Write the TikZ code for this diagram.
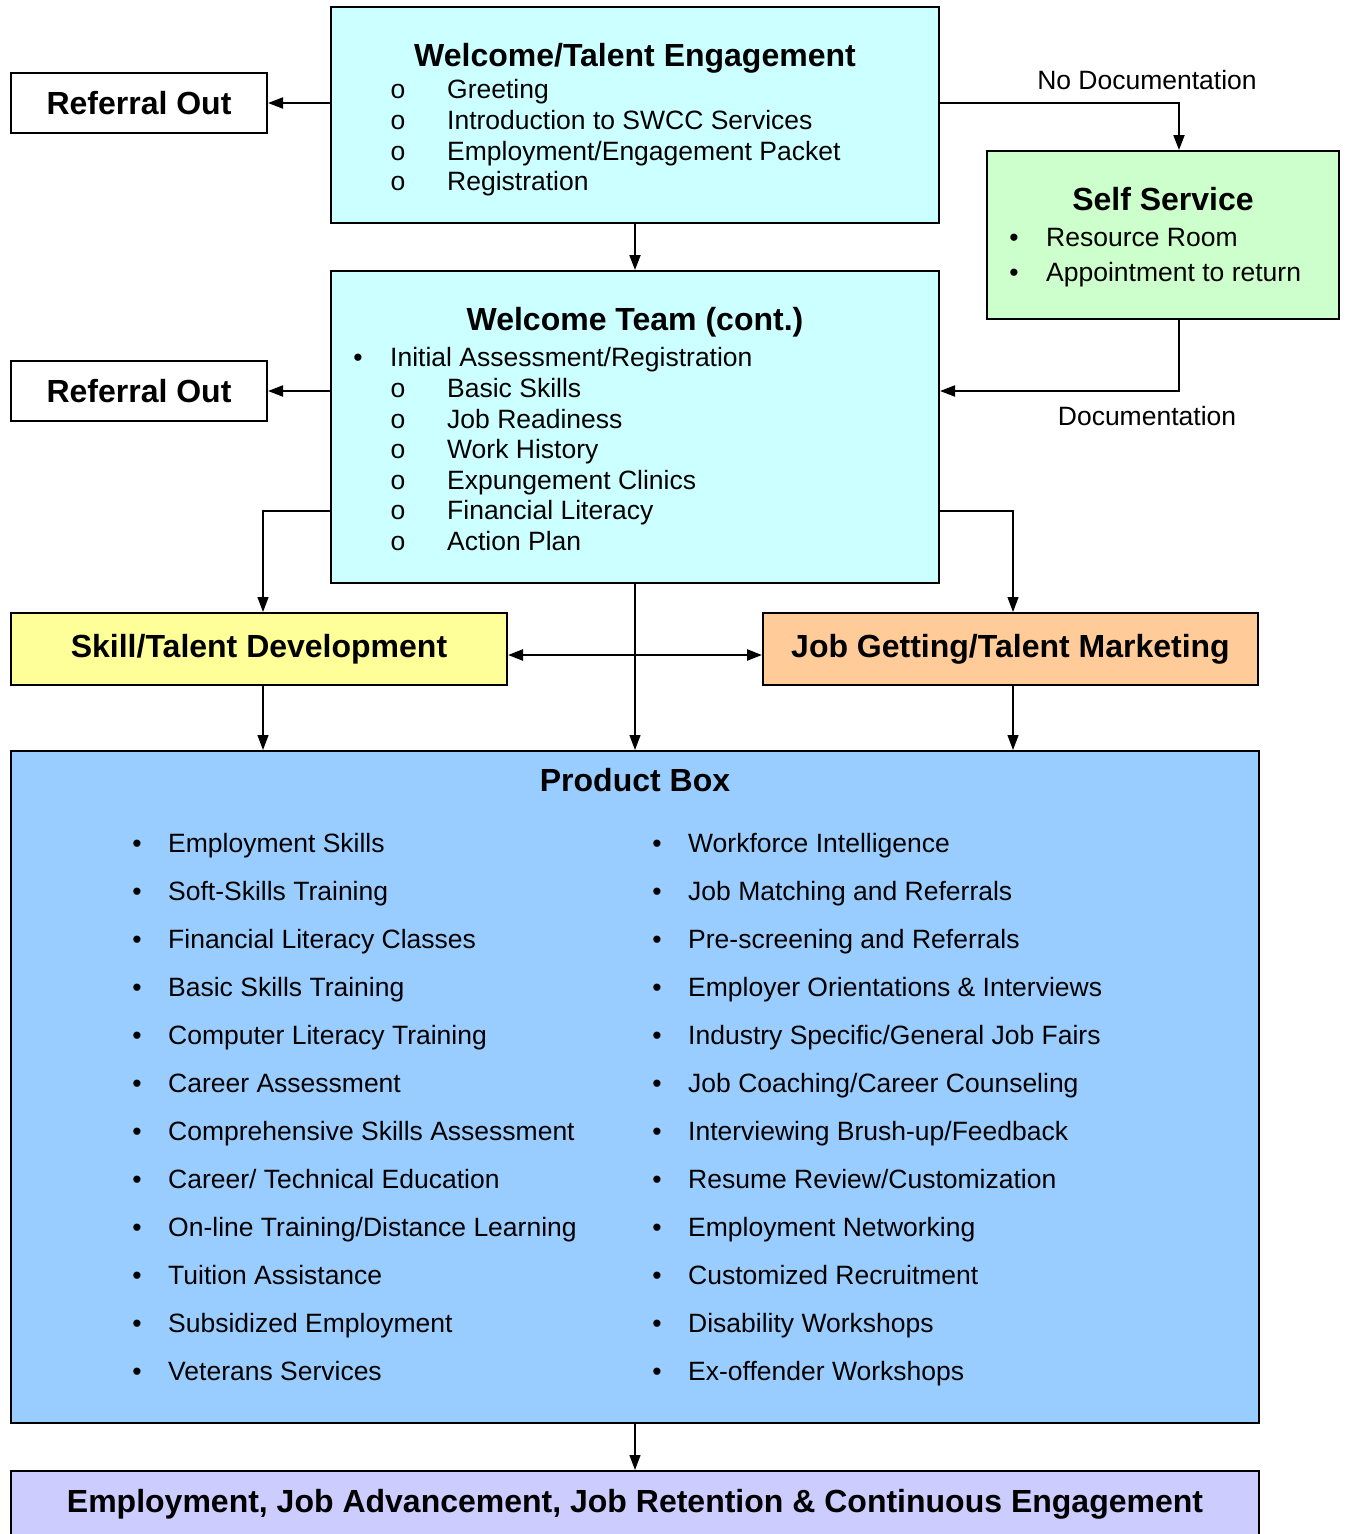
\documentclass[tikz,border=0pt]{standalone}
\usepackage{fontspec}
\setmainfont{Liberation Sans}
\usepackage{tikz}
\usetikzlibrary{arrows.meta}
\usepackage{xcolor}
\definecolor{welcomeCyan}{HTML}{CCFFFF}
\definecolor{selfGreen}{HTML}{CCFFCC}
\definecolor{skillYellow}{HTML}{FFFF99}
\definecolor{jobPeach}{HTML}{FFCC99}
\definecolor{productBlue}{HTML}{99CCFF}
\definecolor{goalLavender}{HTML}{CCCCFF}
\newcommand{\bodysize}{\fontsize{26.5}{31}\selectfont}
\newcommand{\headsize}{\fontsize{32}{36}\selectfont\bfseries}

\begin{document}
\begin{tikzpicture}[
  x=1pt, y=-1pt,
  box/.style={draw, line width=2pt, inner sep=0pt},
  head/.style={font=\headsize, anchor=base},
  item/.style={font=\bodysize, anchor=base west, inner sep=0pt},
  bulletmark/.style={font=\bodysize, anchor=base, inner sep=0pt},
  link/.style={-{Triangle[length=15pt,width=11pt]}, line width=2pt},
  thinlink/.style={-{Triangle[length=15pt,width=11pt]}, line width=1.2pt}
]
  \useasboundingbox (0,0) rectangle (1347,1534);

  % Welcome / Talent Engagement
  \node[box, fill=welcomeCyan, minimum width=608pt, minimum height=216pt] (welcome) at (635,115) {};
  \node[head] (welcomeTitle) at (635,66.5) {Welcome/Talent Engagement};
  \foreach \txt [count=\i from 0] in {Greeting, Introduction to SWCC Services, Employment/Engagement Packet, Registration} {
    \node[bulletmark] (welcomeMark\i) at (398,98.5+30.8*\i) {o};
    \node[item] (welcomeItem\i) at (447,98.5+30.8*\i) {\txt};
  }

  % Referral boxes
  \node[box, minimum width=256pt, minimum height=60pt, font=\headsize] (refOne) at (139,103) {Referral Out};
  \node[box, minimum width=256pt, minimum height=60pt, font=\headsize] (refTwo) at (139,391) {Referral Out};

  % Self Service
  \node[box, fill=selfGreen, minimum width=352pt, minimum height=168pt] (self) at (1163,235) {};
  \node[head] (selfTitle) at (1163,210.5) {Self Service};
  \node[bulletmark] (selfMarkA) at (1014,246.5) {•};
  \node[item] (selfItemA) at (1046,246.5) {Resource Room};
  \node[bulletmark] (selfMarkB) at (1014,281.5) {•};
  \node[item] (selfItemB) at (1046,281.5) {Appointment to return};

  % Welcome Team (cont.)
  \node[box, fill=welcomeCyan, minimum width=608pt, minimum height=312pt] (team) at (635,427) {};
  \node[head] (teamTitle) at (635,330.5) {Welcome Team (cont.)};
  \node[bulletmark] (teamMark) at (358,366.5) {•};
  \node[item] (teamItem) at (390,366.5) {Initial Assessment/Registration};
  \foreach \txt [count=\i from 0] in {Basic Skills, Job Readiness, Work History, Expungement Clinics, Financial Literacy, Action Plan} {
    \node[bulletmark] (teamSubMark\i) at (398,397.5+30.6*\i) {o};
    \node[item] (teamSubItem\i) at (447,397.5+30.6*\i) {\txt};
  }

  % Development and marketing
  \node[box, fill=skillYellow, minimum width=496pt, minimum height=72pt, font=\headsize] (skill) at (259,649) {Skill/Talent Development};
  \node[box, fill=jobPeach, minimum width=495pt, minimum height=72pt, font=\headsize] (job) at (1010.5,649) {Job Getting/Talent Marketing};

  % Product Box
  \node[box, fill=productBlue, minimum width=1248pt, minimum height=672pt] (product) at (635,1087) {};
  \node[head] (productTitle) at (635,791.5) {Product Box};
  \foreach \txt [count=\i from 0] in {Employment Skills, Soft-Skills Training, Financial Literacy Classes, Basic Skills Training, Computer Literacy Training, Career Assessment, Comprehensive Skills Assessment, Career/ Technical Education, On-line Training/Distance Learning, Tuition Assistance, Subsidized Employment, Veterans Services} {
    \node[bulletmark] (leftMark\i) at (137,852.5+48*\i) {•};
    \node[item] (leftItem\i) at (168,852.5+48*\i) {\txt};
  }
  \foreach \txt [count=\i from 0] in {Workforce Intelligence, Job Matching and Referrals, Pre-screening and Referrals, Employer Orientations \& Interviews, Industry Specific/General Job Fairs, Job Coaching/Career Counseling, Interviewing Brush-up/Feedback, Resume Review/Customization, Employment Networking, Customized Recruitment, Disability Workshops, Ex-offender Workshops} {
    \node[bulletmark] (rightMark\i) at (657,852.5+48*\i) {•};
    \node[item] (rightItem\i) at (688,852.5+48*\i) {\txt};
  }

  % Outcome
  \node[box, fill=goalLavender, minimum width=1248pt, minimum height=80pt] (goal) at (635,1511) {};
  \node[head] (goalText) at (635,1512.5) {Employment, Job Advancement, Job Retention \& Continuous Engagement};

  % Connectors
  \draw[link] (refOne.east -| welcome.west) -- (refOne.east);
  \draw[link] (refTwo.east -| team.west) -- (refTwo.east);
  \draw[link] (welcome.south) -- (team.north);
  \draw[link] (welcome.east |- refOne.east) -| ([xshift=16pt]self.north);
  \node[bulletmark] (lblNoDoc) at (1147,89.5) {No Documentation};
  \draw[link] ([xshift=16pt]self.south) |- (team.east |- refTwo.east);
  \node[bulletmark] (lblDoc) at (1147,425.5) {Documentation};

  \draw[thinlink] ([yshift=-84pt]team.west) -| ([xshift=4pt]skill.north);
  \draw[thinlink] ([yshift=-84pt]team.east) -| ([xshift=2.5pt]job.north);
  \draw[{Triangle[length=15pt,width=11pt]}-{Triangle[length=15pt,width=11pt]}, line width=2.4pt] ([yshift=-6pt]skill.east) -- ([yshift=-6pt]job.west);
  \draw[thinlink] (team.south) -- (product.north);
  \draw[thinlink] ([xshift=4pt]skill.south) -- ([xshift=4pt]skill.south |- product.north);
  \draw[thinlink] ([xshift=2.5pt]job.south) -- ([xshift=2.5pt]job.south |- product.north);
  \draw[thinlink] (product.south) -- (goal.north);

\end{tikzpicture}
\end{document}
